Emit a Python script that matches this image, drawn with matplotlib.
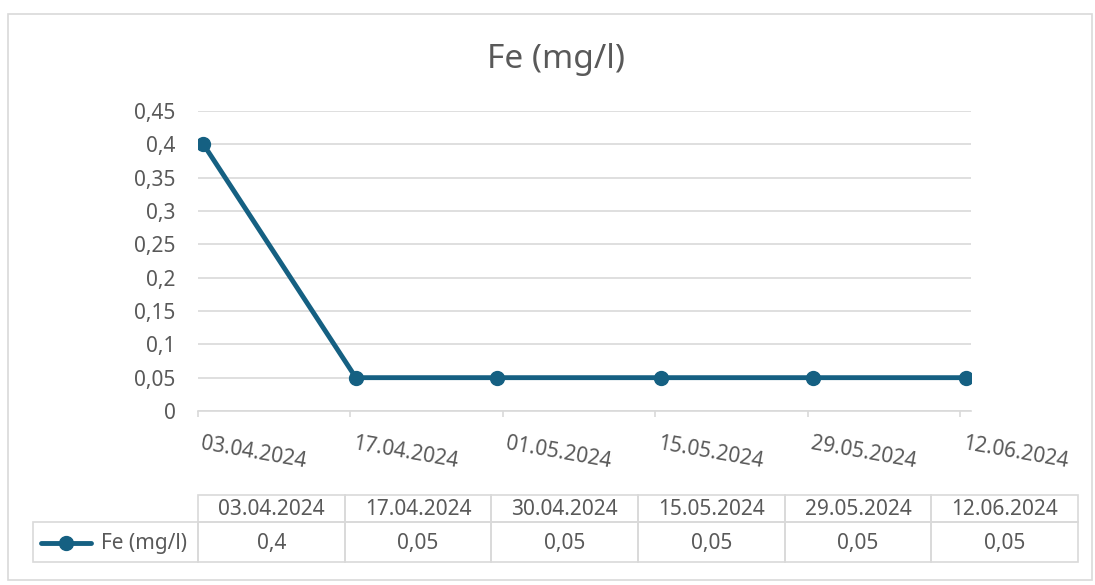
import matplotlib
matplotlib.use('Agg')
import matplotlib.pyplot as plt
import matplotlib.dates as mdates
from matplotlib.patches import Rectangle
from matplotlib import transforms
from matplotlib.ticker import FuncFormatter
from datetime import datetime
import numpy as np

plt.rcParams['font.family'] = ['Noto Sans', 'DejaVu Sans']

# data
dates = ['03.04.2024', '17.04.2024', '30.04.2024', '15.05.2024', '29.05.2024', '12.06.2024']
fe = [0.4, 0.05, 0.05, 0.05, 0.05, 0.05]
fe_text = ['0,4', '0,05', '0,05', '0,05', '0,05', '0,05']
series_name = 'Fe (mg/l)'
yticks = [0, 0.05, 0.1, 0.15, 0.2, 0.25, 0.3, 0.35, 0.4, 0.45]

W, H = 1095, 585
grey = '#595959'
light = '#D9D9D9'
blue = '#156082'
fs = 15

fig = plt.figure(figsize=(W / 100, H / 100), dpi=100)


def px(x0, y0, x1, y1):
    return [x0 / W, 1 - y1 / H, (x1 - x0) / W, (y1 - y0) / H]


# chart frame + table layer
bg = fig.add_axes([0, 0, 1, 1])
bg.set_xlim(0, W)
bg.set_ylim(H, 0)
bg.axis('off')
bg.add_patch(Rectangle((8, 14), 1084, 566, fill=False, edgecolor=light, lw=1.2))

fig.text(0.508, 1 - 60 / H, series_name, ha='center', va='center', fontsize=24, color=grey)

ax = fig.add_axes(px(198, 111, 971, 411))
d = mdates.date2num([datetime.strptime(s, '%d.%m.%Y') for s in dates])
ax.plot(d + 0.5, fe, color=blue, lw=3.5, marker='o', ms=10, solid_capstyle='round', zorder=3)

ax.set_xlim(d[0], d[-1] + 1)
ax.set_ylim(0, 0.45)
ax.set_yticks(yticks)
ax.yaxis.set_major_formatter(FuncFormatter(lambda v, p: ('%g' % round(v, 2)).replace('.', ',')))
ax.set_xticks(np.arange(d[0], d[-1] + 1, 14))
ax.xaxis.set_major_formatter(mdates.DateFormatter('%d.%m.%Y'))

ax.grid(axis='y', color=light, lw=1.2)
ax.set_axisbelow(True)
for s in ['top', 'right', 'left']:
    ax.spines[s].set_visible(False)
ax.spines['bottom'].set_color(light)
ax.spines['bottom'].set_linewidth(1.2)
ax.tick_params(axis='y', length=0, pad=16, labelsize=fs, labelcolor=grey)
ax.tick_params(axis='x', length=4, width=1.2, color=light, direction='out', labelsize=fs, labelcolor=grey)

off = transforms.ScaledTranslation(5 / 100, -12 / 100, fig.dpi_scale_trans)
for lab in ax.get_xticklabels():
    lab.set_rotation(-10)
    lab.set_rotation_mode('anchor')
    lab.set_ha('left')
    lab.set_va('top')
    lab.set_transform(lab.get_transform() + off)

# data table below the chart
col_x = np.linspace(198, 1078, len(dates) + 1)
y_head, y_mid, y_bot = 495, 522, 562
for i, (lbl, val) in enumerate(zip(dates, fe_text)):
    x0, x1 = col_x[i], col_x[i + 1]
    bg.add_patch(Rectangle((x0, y_head), x1 - x0, y_mid - y_head, fill=False, edgecolor=light, lw=1.2))
    bg.add_patch(Rectangle((x0, y_mid), x1 - x0, y_bot - y_mid, fill=False, edgecolor=light, lw=1.2))
    bg.text((x0 + x1) / 2, (y_head + y_mid) / 2 + 1, lbl, ha='center', va='center', fontsize=fs, color=grey)
    bg.text((x0 + x1) / 2, (y_mid + y_bot) / 2 + 1, val, ha='center', va='center', fontsize=fs, color=grey)

bg.add_patch(Rectangle((33, y_mid), 198 - 33, y_bot - y_mid, fill=False, edgecolor=light, lw=1.2))
bg.plot([41, 91], [543, 543], color=blue, lw=3.5, solid_capstyle='round')
bg.plot([66], [543], marker='o', color=blue, ms=10)
bg.text(101, 543, series_name, ha='left', va='center', fontsize=fs, color=grey)

fig.savefig('out.png', dpi=100)
